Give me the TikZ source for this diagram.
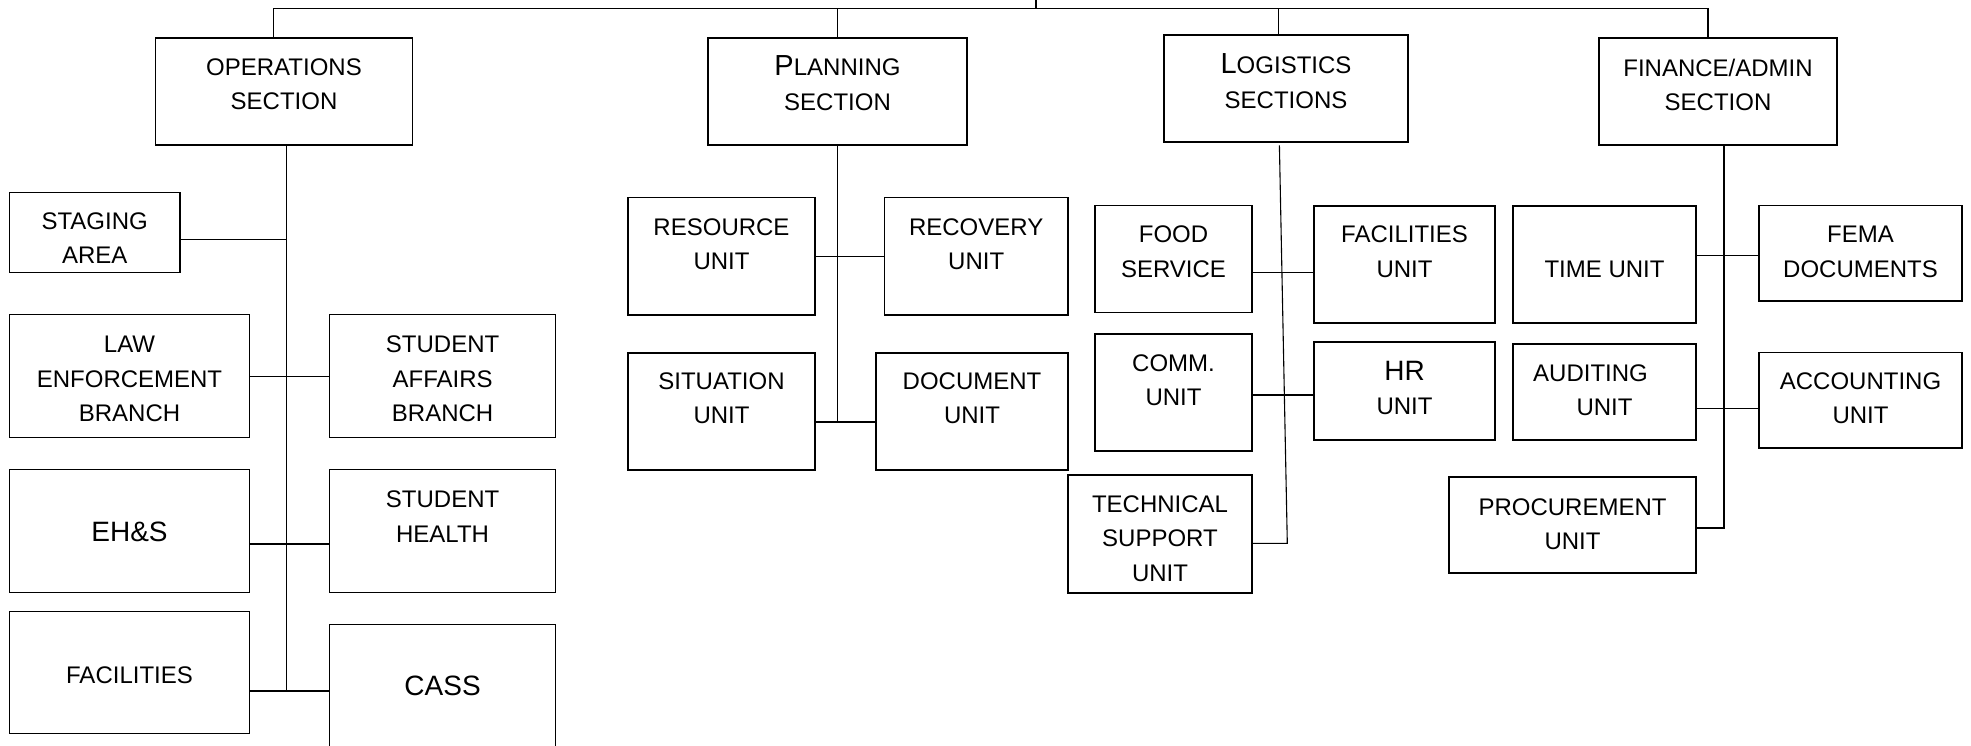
\documentclass[tikz,border=0pt]{standalone}
\usepackage{fontspec}
\setmainfont{Liberation Sans}
\usepackage{tikz}

\begin{document}
\begin{tikzpicture}[x=1pt, y=-1pt,
		sect_style/.style={rectangle,draw=black,line width=1.9pt,inner sep=0pt,outer sep=0pt},
		box_style/.style={rectangle,draw=black,line width=1.2pt,inner sep=0pt,outer sep=0pt},
		text_style/.style={align=center,inner sep=0pt,font=\fontsize{24}{34.5}\selectfont},
		big_style/.style={align=center,inner sep=0pt,font=\fontsize{28}{34.5}\selectfont},
		edge_style/.style={draw=black,line width=1.1pt}]

		\fill[white] (0,0) rectangle (1971,746);
		\useasboundingbox (0,0) rectangle (1971,746);

		% sections
		\node[sect_style, minimum width=257pt, minimum height=107pt] (ops) at (284,91.7) {};
		\node[sect_style, minimum width=259pt, minimum height=107pt] (plan) at (837.5,91.7) {};
		\node[sect_style, minimum width=244pt, minimum height=107pt] (logi) at (1286,88.8) {};
		\node[sect_style, minimum width=238pt, minimum height=107pt] (fin) at (1718,91.5) {};

		\node[text_style] (ops-t) at (284,84.3) {OPERATIONS\\SECTION};
		\node[text_style] (plan-t) at (837.5,83.3) {{\fontsize{29}{34.5}\selectfont P}LANNING\\SECTION};
		\node[text_style] (logi-t) at (1286,81.2) {{\fontsize{29}{34.5}\selectfont L}OGISTICS\\SECTIONS};
		\node[text_style] (fin-t) at (1718,84.8) {FINANCE/ADMIN\\SECTION};

		% operations
		\node[box_style, minimum width=170.7pt, minimum height=80pt] (stage) at (94.7,232.7) {};
		\node[box_style, minimum width=240.3pt, minimum height=123pt] (law) at (129.5,376.2) {};
		\node[box_style, minimum width=226.1pt, minimum height=123pt] (stud) at (442.6,376.2) {};
		\node[box_style, minimum width=240.3pt, minimum height=123pt] (ehs) at (129.5,530.8) {};
		\node[box_style, minimum width=226.1pt, minimum height=123pt] (health) at (442.6,530.8) {};
		\node[box_style, minimum width=240.3pt, minimum height=122pt] (fac) at (129.5,672.3) {};
		\node[box_style, minimum width=226.1pt, minimum height=126pt] (cass) at (442.6,687.3) {};

		\node[text_style] (stage-t) at (94.7,238.3) {STAGING\\AREA};
		\node[text_style] (law-t) at (129.5,378.9) {LAW\\ENFORCEMENT\\BRANCH};
		\node[text_style] (stud-t) at (442.6,378.9) {STUDENT\\AFFAIRS\\BRANCH};
		\node[big_style] (ehs-t) at (129.5,531.7) {EH\&S};
		\node[text_style] (health-t) at (442.6,516.7) {STUDENT\\HEALTH};
		\node[text_style] (fac-t) at (129.5,675) {FACILITIES};
		\node[big_style] (cass-t) at (442.6,686) {CASS};

		% planning
		\node[box_style, minimum width=187pt, minimum height=117.3pt] (res) at (721.5,256.3) {};
		\node[box_style, minimum width=183.7pt, minimum height=117.3pt] (rec) at (976.2,256.3) {};
		\node[box_style, minimum width=187pt, minimum height=117pt] (sit) at (721.5,411.5) {};
		\node[box_style, minimum width=192pt, minimum height=117pt] (doc) at (972,411.5) {};

		\node[text_style] (res-t) at (721.5,244.2) {RESOURCE\\UNIT};
		\node[text_style] (rec-t) at (976.2,244.2) {RECOVERY\\UNIT};
		\node[text_style] (sit-t) at (721.5,398.3) {SITUATION\\UNIT};
		\node[text_style] (doc-t) at (972,398.3) {DOCUMENT\\UNIT};

		% logistics
		\node[box_style, minimum width=157pt, minimum height=106.6pt] (food) at (1173.5,259) {};
		\node[box_style, minimum width=181pt, minimum height=117pt] (facu) at (1404.5,264.5) {};
		\node[box_style, minimum width=157pt, minimum height=117pt] (comm) at (1173.5,392.5) {};
		\node[box_style, minimum width=181pt, minimum height=98pt] (hr) at (1404.5,391) {};
		\node[box_style, minimum width=184pt, minimum height=118pt] (tech) at (1160,534) {};

		\node[text_style] (food-t) at (1173.5,251.8) {FOOD\\SERVICE};
		\node[text_style] (facu-t) at (1404.5,251.8) {FACILITIES\\UNIT};
		\node[text_style] (comm-t) at (1173.5,380) {COMM.\\UNIT};
		\node[text_style] (hr-t) at (1404.5,388) {{\fontsize{28}{34.5}\selectfont HR}\\UNIT};
		\node[text_style] (tech-t) at (1160,538.7) {TECHNICAL\\SUPPORT\\UNIT};

		% finance
		\node[box_style, minimum width=183pt, minimum height=117pt] (time) at (1604.5,264.5) {};
		\node[box_style, minimum width=203pt, minimum height=95.3pt] (fema) at (1860.5,253.4) {};
		\node[box_style, minimum width=183pt, minimum height=96pt] (aud) at (1604.5,392) {};
		\node[box_style, minimum width=203pt, minimum height=95.4pt] (acc) at (1860.5,400.3) {};
		\node[box_style, minimum width=247pt, minimum height=96pt] (proc) at (1572.5,525) {};

		\node[text_style] (time-t) at (1604.5,269.6) {TIME UNIT};
		\node[text_style] (fema-t) at (1860.5,251.8) {FEMA\\DOCUMENTS};
		\node[text_style] (aud-t) at (1604.5,390) {AUDITING\hspace*{28pt}\\UNIT};
		\node[text_style] (acc-t) at (1860.5,398) {ACCOUNTING\\UNIT};
		\node[text_style] (proc-t) at (1572.5,524) {PROCUREMENT\\UNIT};

		% top bus
		\coordinate (head) at (1036,0);
		\coordinate (bus) at (1036,8.3);
		\draw[edge_style] (head) -- (bus);
		\draw[edge_style] ([xshift=-10.4pt]ops.north) |- (bus);
		\draw[edge_style] (bus) -| ([xshift=-10pt]fin.north);
		\draw[edge_style] (plan.north) -- (plan.north |- bus);
		\draw[edge_style] ([xshift=-7.4pt]logi.north) -- ([xshift=-7.4pt]logi.north |- bus);

		% operations links
		\coordinate (ops-end) at (286.6,691);
		\draw[edge_style] (ops.south -| ops-end) -- (ops-end);
		\draw[edge_style] ([yshift=-6.6pt]stage.east) -- ([yshift=-6.6pt]stage.east -| ops-end);
		\draw[edge_style] (law) edge (stud);
		\draw[edge_style] ([yshift=-13.2pt]ehs.east) -- ([yshift=-13.2pt]ehs.east -| health.west);
		\draw[edge_style] (fac.east |- ops-end) -- (ops-end -| cass.west);

		% planning links
		\coordinate (plan-end) at (837.5,422);
		\draw[edge_style] (plan.south) -- (plan-end);
		\draw[edge_style] (res) edge (rec);
		\draw[edge_style] (sit.east |- plan-end) -- (plan-end -| doc.west);

		% logistics links
		\coordinate (logi-end) at (1287.3,543.3);
		\draw[edge_style] ([xshift=-6.6pt,yshift=-3pt]logi.south) -- (logi-end) -- (logi-end -| tech.east);
		\draw[edge_style] ([yshift=-13.3pt]food.east) -- ([yshift=-13.3pt]food.east -| facu.west);
		\draw[edge_style] ([yshift=-2.5pt]comm.east) -- ([yshift=-2.5pt]comm.east -| hr.west);

		% finance links
		\coordinate (fin-end) at (1724,528);
		\draw[edge_style] (fin.south -| fin-end) -- (fin-end) -- (fin-end -| proc.east);
		\draw[edge_style] ([yshift=9.1pt]time.east) -- ([yshift=9.1pt]time.east -| fema.west);
		\draw[edge_style] ([yshift=-16.4pt]aud.east) -- ([yshift=-16.4pt]aud.east -| acc.west);

\end{tikzpicture}
\end{document}
